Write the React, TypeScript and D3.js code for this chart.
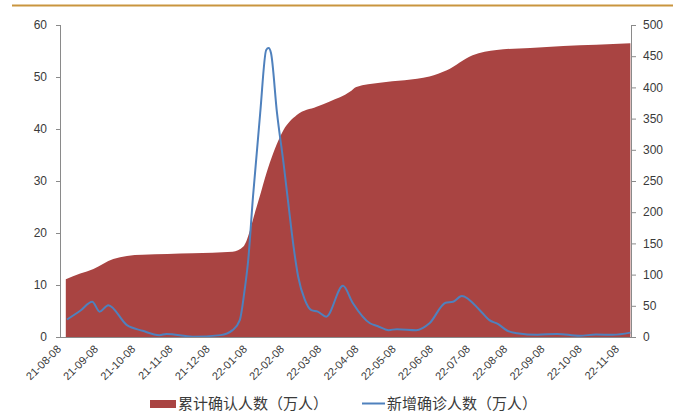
import React from "react";
import * as d3 from "d3";

const monthLabels = [
  "21-08-08", "21-09-08", "21-10-08", "21-11-08", "21-12-08", "22-01-08", "22-02-08", "22-03-08",
  "22-04-08", "22-05-08", "22-06-08", "22-07-08", "22-08-08", "22-09-08", "22-10-08", "22-11-08",
];

// 累计确认人数（万人） — left axis
const cumDates = [
  "2021-08-17", "2021-08-29", "2021-09-09", "2021-09-25", "2021-10-06", "2021-10-19", "2021-11-29",
  "2022-01-01", "2022-01-10", "2022-01-21", "2022-02-01", "2022-02-12", "2022-02-22", "2022-03-09",
  "2022-03-20", "2022-04-06", "2022-04-11", "2022-04-30", "2022-06-10", "2022-06-24", "2022-07-15",
  "2022-08-04", "2022-09-01", "2022-09-28", "2022-10-25", "2022-11-22",
];
const cumValues = [
  11.1, 12.2, 13.1, 15.0, 15.6, 15.8, 16.1,
  16.4, 17.4, 25.0, 33.5, 39.8, 42.7, 44.3,
  45.3, 47.2, 48.1, 48.9, 50.1, 51.3, 54.2,
  55.2, 55.6, 55.96, 56.2, 56.5,
];

// 新增确诊人数（万人） — right axis
const newDates = [
  "2021-08-18", "2021-08-29", "2021-09-08", "2021-09-14", "2021-09-21", "2021-10-06", "2021-10-19",
  "2021-11-02", "2021-11-08", "2021-11-29", "2021-12-22", "2022-01-01", "2022-01-07", "2022-01-11",
  "2022-01-14", "2022-01-18", "2022-01-24", "2022-01-29", "2022-01-31", "2022-02-02", "2022-02-07",
  "2022-02-12", "2022-02-18", "2022-02-21", "2022-02-23", "2022-02-28", "2022-03-05", "2022-03-10",
  "2022-03-17", "2022-03-31", "2022-04-08", "2022-04-22", "2022-04-28", "2022-05-07", "2022-05-14",
  "2022-05-30", "2022-06-10", "2022-06-23", "2022-06-29", "2022-07-06", "2022-07-21", "2022-07-29",
  "2022-08-05", "2022-08-13", "2022-08-21", "2022-09-07", "2022-09-23", "2022-10-11", "2022-10-25",
  "2022-11-08", "2022-11-22",
];
const newValues = [
  28, 42, 56.6, 40.6, 51, 19, 10,
  3, 5, 0.5, 3, 11, 27, 75,
  123, 225, 359, 460, 463, 455, 359,
  279, 171, 123, 97, 60, 43, 40.6,
  32.5, 82, 55, 22, 17.6, 11, 12.6,
  11, 22, 55, 56.6, 65.7, 43, 27,
  21, 10, 6, 3.5, 5, 2, 4,
  3.5, 7,
];

const leftTicks = [0, 10, 20, 30, 40, 50, 60];
const rightTicks = [0, 50, 100, 150, 200, 250, 300, 350, 400, 450, 500];

const seriesNames = ["累计确认人数（万人）", "新增确诊人数（万人）"];

function monthIndex(s: string): number {
  const [y, m, d] = s.split("-").map(Number);
  const t = Date.UTC(y, m - 1, d);
  let k = (y - 2021) * 12 + (m - 8);
  if (d < 8) k -= 1;
  const a = Date.UTC(2021, 7 + k, 8);
  const b = Date.UTC(2021, 8 + k, 8);
  return k + (t - a) / (b - a);
}

const W = 681;
const H = 415;
const plotLeft = 60;
const plotRight = 632;
const plotTop = 25;
const plotBottom = 337;

export default function App() {
  const x = d3.scaleLinear().domain([0, 15]).range([55, 613]);
  const yL = d3.scaleLinear().domain([0, 60]).range([plotBottom, plotTop]);
  const yR = d3.scaleLinear().domain([0, 500]).range([plotBottom, plotTop]);

  const cumData = cumDates.map((d, i) => ({ m: monthIndex(d), v: cumValues[i] }));
  const newData = newDates.map((d, i) => ({ m: monthIndex(d), v: newValues[i] }));

  const area = d3
    .area<{ m: number; v: number }>()
    .x((d) => x(d.m))
    .y0(plotBottom)
    .y1((d) => yL(d.v))
    .curve(d3.curveMonotoneX);

  const line = d3
    .line<{ m: number; v: number }>()
    .x((d) => x(d.m))
    .y((d) => yR(d.v))
    .curve(d3.curveMonotoneX);

  const axisColor = "#8a8a8a";
  const textColor = "#3a3a3a";
  const font = "Liberation Sans, Arial, sans-serif";
  const cjk = "'Noto Sans CJK SC', sans-serif";

  return (
    <svg width={W} height={H} style={{ position: "absolute", left: 0, top: 0, background: "#fff" }}>
      <line x1={12} x2={673} y1={5.5} y2={5.5} stroke="#c9953f" strokeWidth={2} />

      <path d={area(cumData) || ""} fill="#a94442" />
      <path d={line(newData) || ""} fill="none" stroke="#4f81bd" strokeWidth={2} />

      {/* left axis */}
      <line x1={plotLeft + 0.5} x2={plotLeft + 0.5} y1={plotTop} y2={plotBottom} stroke={axisColor} />
      {leftTicks.map((t) => (
        <g key={"l" + t}>
          <line x1={plotLeft - 4} x2={plotLeft} y1={yL(t) + 0.5} y2={yL(t) + 0.5} stroke={axisColor} />
          <text x={47} y={yL(t)} dy="0.35em" textAnchor="end" fontSize={12} fontFamily={font} fill={textColor}>
            {t}
          </text>
        </g>
      ))}

      {/* right axis */}
      <line x1={plotRight - 0.5} x2={plotRight - 0.5} y1={plotTop} y2={plotBottom} stroke={axisColor} />
      {rightTicks.map((t) => (
        <g key={"r" + t}>
          <line x1={plotRight} x2={plotRight + 4} y1={yR(t) + 0.5} y2={yR(t) + 0.5} stroke={axisColor} />
          <text x={643} y={yR(t)} dy="0.35em" textAnchor="start" fontSize={12} fontFamily={font} fill={textColor}>
            {t}
          </text>
        </g>
      ))}

      {/* x axis */}
      <line x1={plotLeft} x2={plotRight} y1={plotBottom + 0.5} y2={plotBottom + 0.5} stroke={axisColor} />
      {monthLabels.map((lab, i) => (
        <text
          key={lab}
          transform={`translate(${x(i) + 4},${plotBottom + 10}) rotate(-45)`}
          textAnchor="end"
          dy="0.35em"
          fontSize={11}
          fontFamily={font}
          fill={textColor}
        >
          {lab}
        </text>
      ))}

      {/* legend */}
      <rect x={150} y={400} width={26} height={8} fill="#a94442" />
      <text x={178} y={404} dy="0.35em" fontSize={15} fontFamily={cjk} fill={textColor}>
        {seriesNames[0]}
      </text>
      <line x1={362} x2={385} y1={403.5} y2={403.5} stroke="#4f81bd" strokeWidth={2} />
      <text x={387} y={404} dy="0.35em" fontSize={15} fontFamily={cjk} fill={textColor}>
        {seriesNames[1]}
      </text>
    </svg>
  );
}
